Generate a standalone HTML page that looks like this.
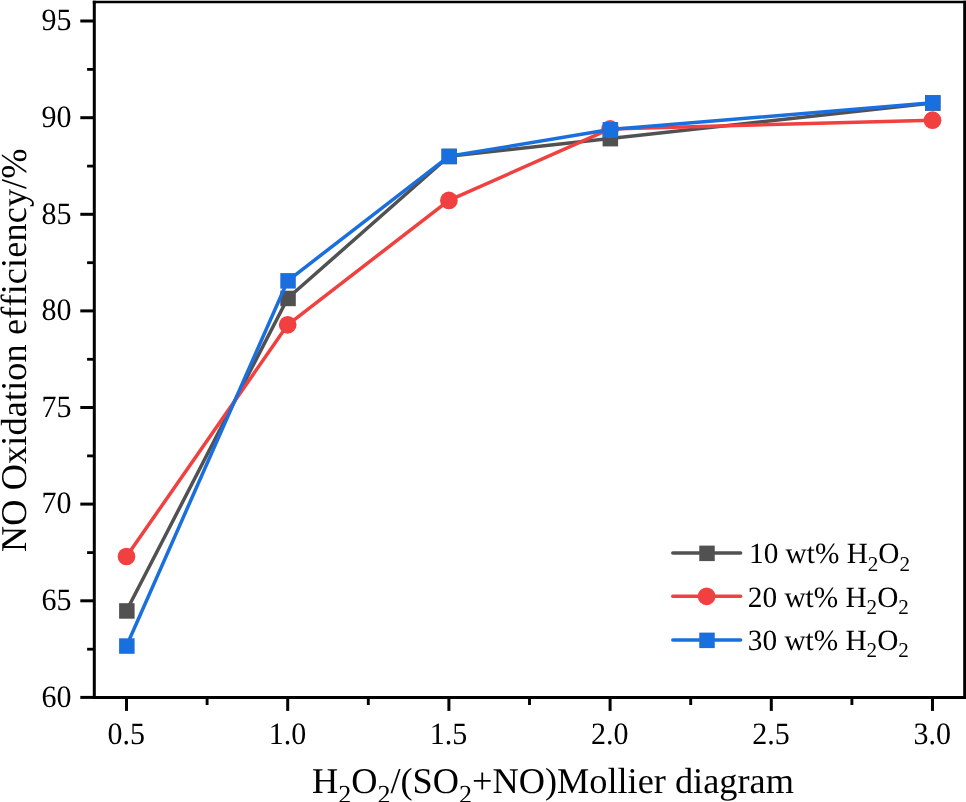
<!DOCTYPE html>
<html lang="en"><head><meta charset="utf-8"><title>NO Oxidation efficiency</title>
<style>
html,body{margin:0;padding:0;background:#fff;}
body{width:966px;height:802px;overflow:hidden;}
svg{display:block;}
text{font-family:"Liberation Serif","Times New Roman",serif;fill:#000;font-variant-ligatures:none;font-feature-settings:"liga" 0,"clig" 0;font-kerning:none;text-rendering:geometricPrecision;}
.t{font-size:30px;}
.a{font-size:36.3px;}
.l{font-size:29.3px;}
</style></head><body>
<svg width="966" height="802" viewBox="0 0 966 802">
<rect width="966" height="802" fill="#fff"/>
<polyline points="126.5,610.8 287.7,298.3 448.9,156.3 610.1,138.5 932.5,103.0" fill="none" stroke="#515151" stroke-width="3.5" stroke-linejoin="round" stroke-linecap="round"/>
<rect x="119.1" y="603.2" width="15.5" height="15.5" fill="#515151"/>
<rect x="280.3" y="290.7" width="15.5" height="15.5" fill="#515151"/>
<rect x="441.5" y="148.7" width="15.5" height="15.5" fill="#515151"/>
<rect x="602.6" y="130.9" width="15.5" height="15.5" fill="#515151"/>
<rect x="925.0" y="95.3" width="15.5" height="15.5" fill="#515151"/>
<polyline points="126.5,556.5 287.7,324.8 448.9,200.4 610.1,128.9 932.5,120.2" fill="none" stroke="#f14040" stroke-width="3.5" stroke-linejoin="round" stroke-linecap="round"/>
<circle cx="126.5" cy="556.5" r="8.85" fill="#f14040"/>
<circle cx="287.7" cy="324.8" r="8.85" fill="#f14040"/>
<circle cx="448.9" cy="200.4" r="8.85" fill="#f14040"/>
<circle cx="610.1" cy="128.9" r="8.85" fill="#f14040"/>
<circle cx="932.5" cy="120.2" r="8.85" fill="#f14040"/>
<polyline points="126.5,646.0 287.7,280.8 448.9,156.3 610.1,129.6 932.5,102.8" fill="none" stroke="#1a6fdf" stroke-width="3.5" stroke-linejoin="round" stroke-linecap="round"/>
<rect x="119.1" y="638.3" width="15.5" height="15.5" fill="#1a6fdf"/>
<rect x="280.3" y="273.1" width="15.5" height="15.5" fill="#1a6fdf"/>
<rect x="441.5" y="148.7" width="15.5" height="15.5" fill="#1a6fdf"/>
<rect x="602.6" y="122.0" width="15.5" height="15.5" fill="#1a6fdf"/>
<rect x="925.0" y="95.1" width="15.5" height="15.5" fill="#1a6fdf"/>
<g stroke="#000" stroke-width="3" fill="none" stroke-linecap="butt">
<path d="M94.3 0.7V697.4H964.7V0.7"/>
<line x1="92.8" y1="2.0" x2="966.2" y2="2.0" stroke-width="2.6"/>
<line x1="80.3" y1="697.4" x2="94.3" y2="697.4"/>
<line x1="80.3" y1="600.8" x2="94.3" y2="600.8"/>
<line x1="80.3" y1="504.1" x2="94.3" y2="504.1"/>
<line x1="80.3" y1="407.5" x2="94.3" y2="407.5"/>
<line x1="80.3" y1="310.9" x2="94.3" y2="310.9"/>
<line x1="80.3" y1="214.3" x2="94.3" y2="214.3"/>
<line x1="80.3" y1="117.7" x2="94.3" y2="117.7"/>
<line x1="80.3" y1="21.0" x2="94.3" y2="21.0"/>
<line x1="87.1" y1="649.2" x2="94.3" y2="649.2" stroke-width="2.8"/>
<line x1="87.1" y1="552.6" x2="94.3" y2="552.6" stroke-width="2.8"/>
<line x1="87.1" y1="455.9" x2="94.3" y2="455.9" stroke-width="2.8"/>
<line x1="87.1" y1="359.3" x2="94.3" y2="359.3" stroke-width="2.8"/>
<line x1="87.1" y1="262.7" x2="94.3" y2="262.7" stroke-width="2.8"/>
<line x1="87.1" y1="166.1" x2="94.3" y2="166.1" stroke-width="2.8"/>
<line x1="87.1" y1="69.4" x2="94.3" y2="69.4" stroke-width="2.8"/>
<line x1="126.5" y1="697.4" x2="126.5" y2="710.9"/>
<line x1="287.7" y1="697.4" x2="287.7" y2="710.9"/>
<line x1="448.9" y1="697.4" x2="448.9" y2="710.9"/>
<line x1="610.1" y1="697.4" x2="610.1" y2="710.9"/>
<line x1="771.3" y1="697.4" x2="771.3" y2="710.9"/>
<line x1="932.5" y1="697.4" x2="932.5" y2="710.9"/>
<line x1="207.1" y1="697.4" x2="207.1" y2="705.0" stroke-width="2.9"/>
<line x1="368.3" y1="697.4" x2="368.3" y2="705.0" stroke-width="2.9"/>
<line x1="529.5" y1="697.4" x2="529.5" y2="705.0" stroke-width="2.9"/>
<line x1="690.7" y1="697.4" x2="690.7" y2="705.0" stroke-width="2.9"/>
<line x1="851.9" y1="697.4" x2="851.9" y2="705.0" stroke-width="2.9"/>
</g>
<text class="t" transform="translate(71.6,706.7) scale(1,1.035)" text-anchor="end">60</text>
<text class="t" transform="translate(71.6,610.1) scale(1,1.035)" text-anchor="end">65</text>
<text class="t" transform="translate(71.6,513.4) scale(1,1.035)" text-anchor="end">70</text>
<text class="t" transform="translate(71.6,416.8) scale(1,1.035)" text-anchor="end">75</text>
<text class="t" transform="translate(71.6,320.2) scale(1,1.035)" text-anchor="end">80</text>
<text class="t" transform="translate(71.6,223.6) scale(1,1.035)" text-anchor="end">85</text>
<text class="t" transform="translate(71.6,127.0) scale(1,1.035)" text-anchor="end">90</text>
<text class="t" transform="translate(71.6,30.3) scale(1,1.035)" text-anchor="end">95</text>
<text class="t" transform="translate(126.2,743.6) scale(1,1.035)" text-anchor="middle">0.5</text>
<text class="t" transform="translate(287.4,743.6) scale(1,1.035)" text-anchor="middle">1.0</text>
<text class="t" transform="translate(448.6,743.6) scale(1,1.035)" text-anchor="middle">1.5</text>
<text class="t" transform="translate(609.8,743.6) scale(1,1.035)" text-anchor="middle">2.0</text>
<text class="t" transform="translate(771.0,743.6) scale(1,1.035)" text-anchor="middle">2.5</text>
<text class="t" transform="translate(932.2,743.6) scale(1,1.035)" text-anchor="middle">3.0</text>
<text class="a" x="312" y="793">H<tspan font-size="26" dy="10">2</tspan><tspan dy="-10">O</tspan><tspan font-size="26" dy="10">2</tspan><tspan dy="-10">/(SO</tspan><tspan font-size="26" dy="10">2</tspan><tspan dy="-10">+NO)Mollier diagram</tspan></text>
<text class="a" letter-spacing="0.1" transform="translate(26,552) rotate(-90)">NO Oxidation efficiency/%</text>
<line x1="672.8" y1="553" x2="740.6" y2="553" stroke="#515151" stroke-width="3.5" stroke-linecap="round"/>
<rect x="699.25" y="545.6" width="15.5" height="15.5" fill="#515151"/>
<text class="l" x="749" y="563.2">10 wt% H<tspan font-size="21.1" dy="7.7">2</tspan><tspan dy="-7.7">O</tspan><tspan font-size="21.1" dy="7.7">2</tspan></text>
<line x1="672.8" y1="596.3" x2="740.6" y2="596.3" stroke="#f14040" stroke-width="3.5" stroke-linecap="round"/>
<circle cx="706.6" cy="596.3" r="8.85" fill="#f14040"/>
<text class="l" x="747.8" y="606.5">20 wt% H<tspan font-size="21.1" dy="7.7">2</tspan><tspan dy="-7.7">O</tspan><tspan font-size="21.1" dy="7.7">2</tspan></text>
<line x1="672.8" y1="640.0" x2="740.6" y2="640.0" stroke="#1a6fdf" stroke-width="3.5" stroke-linecap="round"/>
<rect x="699.25" y="632.6" width="15.5" height="15.5" fill="#1a6fdf"/>
<text class="l" x="747.8" y="649.7">30 wt% H<tspan font-size="21.1" dy="7.7">2</tspan><tspan dy="-7.7">O</tspan><tspan font-size="21.1" dy="7.7">2</tspan></text>
</svg>
</body></html>
